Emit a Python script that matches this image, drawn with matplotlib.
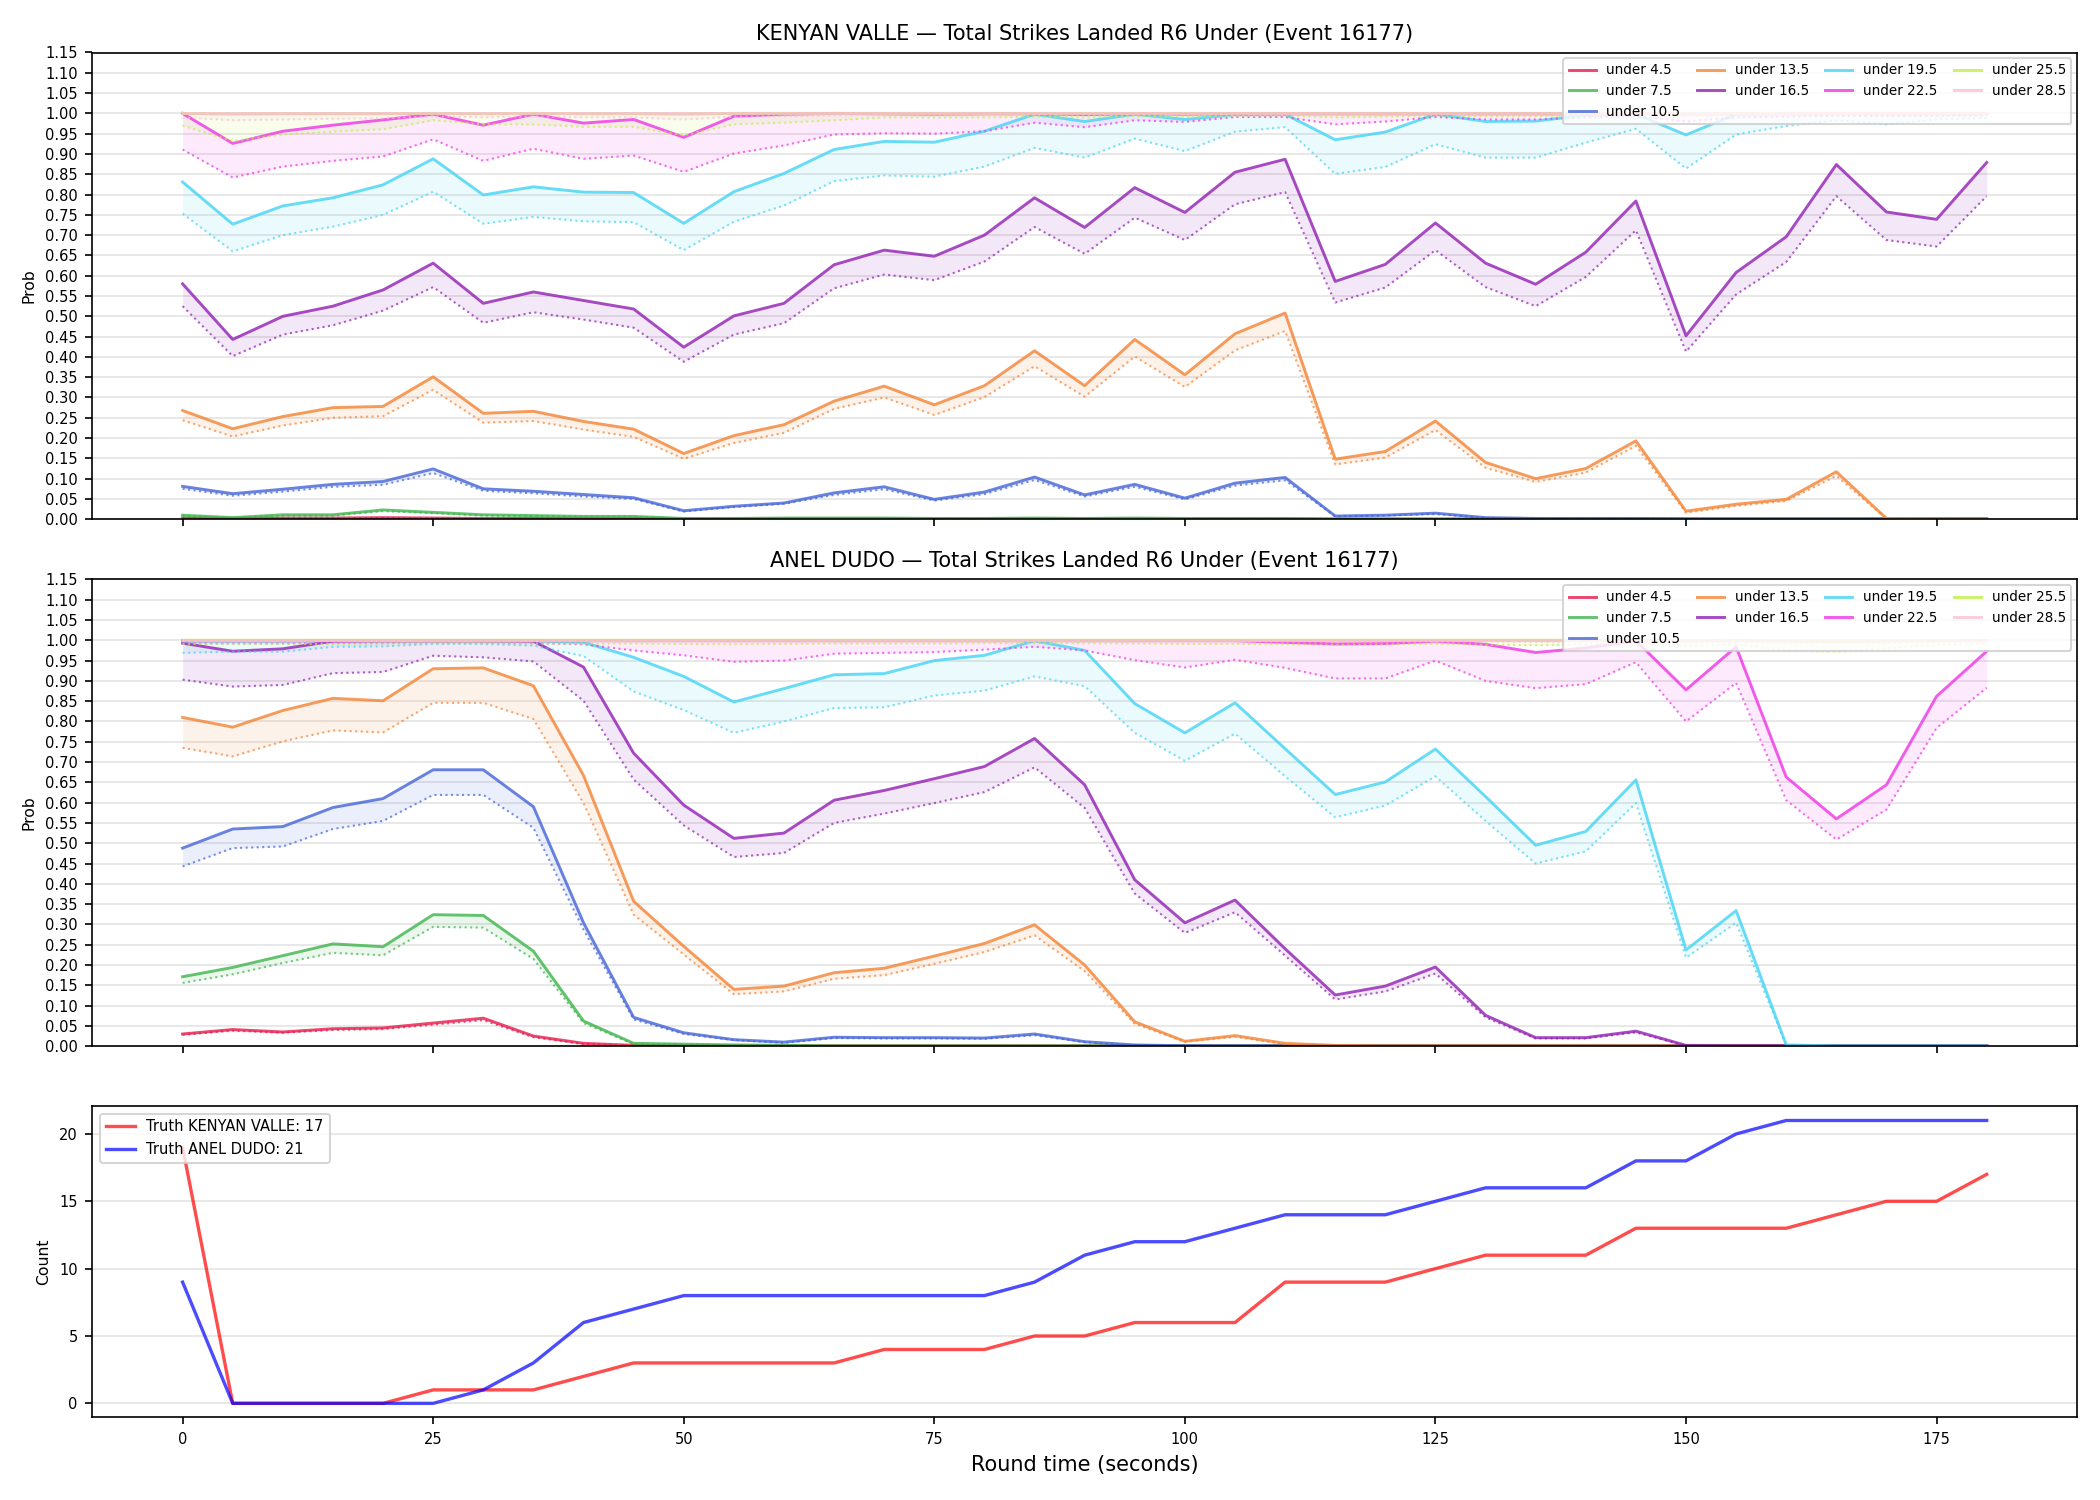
import matplotlib
matplotlib.use("Agg")
import matplotlib.pyplot as plt
from matplotlib.ticker import MultipleLocator

# round time (seconds)
t = [0, 5, 10, 15, 20, 25, 30, 35, 40, 45, 50, 55, 60, 65, 70, 75, 80, 85, 90,
     95, 100, 105, 110, 115, 120, 125, 130, 135, 140, 145, 150, 155, 160, 165,
     170, 175, 180]

lines = ["4.5", "7.5", "10.5", "13.5", "16.5", "19.5", "22.5", "25.5", "28.5"]
colors = ["#e6194b", "#3cb44b", "#4363d8", "#f58231", "#911eb4",
          "#42d4f4", "#f032e6", "#bfef45", "#fabed4"]

# ---- KENYAN VALLE: prob (solid) and lower bound (dotted) ----
kv_u4_5 = [0.003, 0.002, 0.003, 0.003, 0.004, 0.003, 0.002, 0.002, 0.002, 0.002,
           0.001, 0.001, 0.001, 0.001, 0.001, 0.001, 0.001, 0.001, 0.001, 0.001,
           0.001, 0.001, 0.001, 0.000, 0.000, 0.000, 0.000, 0.000, 0.000, 0.000,
           0.000, 0.000, 0.000, 0.000, 0.000, 0.000, 0.000]
kv_u4_5_lo = [0.002, 0.001, 0.002, 0.002, 0.003, 0.002, 0.001, 0.001, 0.001, 0.001,
              0.001, 0.001, 0.001, 0.001, 0.001, 0.001, 0.001, 0.001, 0.001, 0.001,
              0.001, 0.001, 0.001, 0.000, 0.000, 0.000, 0.000, 0.000, 0.000, 0.000,
              0.000, 0.000, 0.000, 0.000, 0.000, 0.000, 0.000]
kv_u7_5 = [0.010, 0.004, 0.011, 0.011, 0.023, 0.017, 0.011, 0.009, 0.007, 0.007,
           0.002, 0.002, 0.003, 0.003, 0.003, 0.002, 0.002, 0.003, 0.002, 0.003,
           0.002, 0.002, 0.002, 0.001, 0.001, 0.001, 0.001, 0.001, 0.001, 0.001,
           0.001, 0.001, 0.001, 0.001, 0.001, 0.001, 0.001]
kv_u7_5_lo = [0.008, 0.003, 0.009, 0.009, 0.020, 0.015, 0.009, 0.008, 0.006, 0.006,
              0.002, 0.002, 0.002, 0.002, 0.002, 0.002, 0.002, 0.002, 0.002, 0.002,
              0.002, 0.002, 0.002, 0.001, 0.001, 0.001, 0.001, 0.001, 0.001, 0.001,
              0.001, 0.001, 0.001, 0.001, 0.001, 0.001, 0.001]
kv_u10_5 = [0.081, 0.063, 0.074, 0.086, 0.093, 0.124, 0.075, 0.069, 0.061, 0.053,
            0.021, 0.032, 0.040, 0.065, 0.080, 0.049, 0.067, 0.104, 0.060, 0.086,
            0.052, 0.089, 0.103, 0.008, 0.010, 0.015, 0.004, 0.002, 0.002, 0.002,
            0.001, 0.001, 0.001, 0.001, 0.001, 0.001, 0.001]
kv_u10_5_lo = [0.075, 0.058, 0.068, 0.080, 0.085, 0.114, 0.070, 0.064, 0.056, 0.050,
               0.019, 0.030, 0.038, 0.060, 0.074, 0.046, 0.062, 0.097, 0.056, 0.080,
               0.049, 0.083, 0.096, 0.007, 0.009, 0.013, 0.003, 0.002, 0.002, 0.002,
               0.001, 0.001, 0.001, 0.001, 0.001, 0.001, 0.001]
kv_u13_5 = [0.268, 0.223, 0.253, 0.275, 0.278, 0.351, 0.261, 0.266, 0.241, 0.222,
            0.162, 0.206, 0.233, 0.291, 0.328, 0.282, 0.329, 0.415, 0.329, 0.443,
            0.356, 0.457, 0.508, 0.148, 0.167, 0.242, 0.140, 0.100, 0.125, 0.193,
            0.020, 0.037, 0.049, 0.117, 0.002, 0.001, 0.001]
kv_u13_5_lo = [0.244, 0.204, 0.231, 0.250, 0.254, 0.319, 0.238, 0.242, 0.221, 0.203,
               0.149, 0.188, 0.213, 0.272, 0.300, 0.257, 0.301, 0.377, 0.302, 0.401,
               0.326, 0.416, 0.464, 0.135, 0.152, 0.220, 0.127, 0.092, 0.115, 0.181,
               0.016, 0.033, 0.045, 0.107, 0.001, 0.001, 0.001]
kv_u16_5 = [0.580, 0.443, 0.500, 0.525, 0.565, 0.631, 0.532, 0.560, 0.539, 0.518,
            0.424, 0.501, 0.532, 0.627, 0.663, 0.648, 0.700, 0.792, 0.719, 0.817,
            0.756, 0.855, 0.887, 0.586, 0.628, 0.730, 0.631, 0.579, 0.658, 0.784,
            0.452, 0.608, 0.696, 0.874, 0.757, 0.739, 0.879]
kv_u16_5_lo = [0.525, 0.402, 0.455, 0.478, 0.514, 0.572, 0.484, 0.510, 0.492, 0.472,
               0.388, 0.455, 0.483, 0.569, 0.603, 0.589, 0.635, 0.720, 0.654, 0.743,
               0.688, 0.776, 0.806, 0.534, 0.571, 0.663, 0.572, 0.525, 0.597, 0.712,
               0.413, 0.554, 0.634, 0.796, 0.688, 0.672, 0.796]
kv_u19_5 = [0.831, 0.727, 0.772, 0.792, 0.824, 0.888, 0.799, 0.819, 0.806, 0.805,
            0.729, 0.807, 0.852, 0.911, 0.931, 0.929, 0.956, 0.998, 0.980, 0.998,
            0.985, 0.997, 0.998, 0.935, 0.954, 0.998, 0.980, 0.981, 0.996, 0.998,
            0.947, 0.998, 0.999, 0.999, 0.999, 0.999, 0.999]
kv_u19_5_lo = [0.753, 0.660, 0.700, 0.721, 0.750, 0.807, 0.728, 0.745, 0.734, 0.732,
               0.663, 0.733, 0.773, 0.833, 0.847, 0.844, 0.869, 0.915, 0.891, 0.938,
               0.907, 0.955, 0.966, 0.851, 0.868, 0.924, 0.891, 0.891, 0.928, 0.962,
               0.864, 0.948, 0.969, 0.983, 0.973, 0.985, 0.989]
kv_u22_5 = [1.000, 0.926, 0.956, 0.971, 0.984, 0.998, 0.971, 0.998, 0.976, 0.985,
            0.941, 0.993, 0.998, 1.000, 0.999, 0.998, 0.999, 0.999, 0.997, 0.999,
            0.998, 0.999, 0.999, 0.999, 0.999, 0.999, 0.999, 0.999, 0.999, 0.999,
            0.999, 0.999, 1.000, 1.000, 1.000, 1.000, 1.000]
kv_u22_5_lo = [0.911, 0.842, 0.869, 0.883, 0.894, 0.936, 0.883, 0.913, 0.888, 0.896,
               0.856, 0.901, 0.921, 0.948, 0.951, 0.950, 0.956, 0.977, 0.966, 0.983,
               0.979, 0.991, 0.991, 0.973, 0.980, 0.991, 0.985, 0.985, 0.990, 0.993,
               0.980, 0.990, 0.992, 0.994, 0.993, 0.994, 0.995]
kv_u25_5 = [1.000, 0.998, 0.999, 0.999, 0.999, 1.000, 0.999, 1.000, 0.999, 0.999,
            0.998, 1.000, 1.000, 1.000, 1.000, 1.000, 1.000, 1.000, 1.000, 1.000,
            1.000, 1.000, 1.000, 1.000, 1.000, 1.000, 1.000, 1.000, 1.000, 1.000,
            1.000, 1.000, 1.000, 1.000, 1.000, 1.000, 1.000]
kv_u25_5_lo = [0.970, 0.932, 0.948, 0.955, 0.961, 0.983, 0.973, 0.973, 0.967, 0.967,
               0.946, 0.973, 0.977, 0.983, 0.990, 0.990, 0.990, 0.992, 0.990, 0.993,
               0.992, 0.994, 0.995, 0.990, 0.992, 0.995, 0.993, 0.993, 0.995, 0.996,
               0.993, 0.995, 0.996, 0.997, 0.996, 0.997, 0.997]
kv_u28_5 = [1.000, 1.000, 1.000, 1.000, 1.000, 1.000, 1.000, 1.000, 1.000, 1.000,
            1.000, 1.000, 1.000, 1.000, 1.000, 1.000, 1.000, 1.000, 1.000, 1.000,
            1.000, 1.000, 1.000, 1.000, 1.000, 1.000, 1.000, 1.000, 1.000, 1.000,
            1.000, 1.000, 1.000, 1.000, 1.000, 1.000, 1.000]
kv_u28_5_lo = [0.990, 0.983, 0.985, 0.987, 0.988, 0.993, 0.990, 0.993, 0.990, 0.990,
               0.985, 0.992, 0.993, 0.995, 0.996, 0.996, 0.996, 0.997, 0.996, 0.997,
               0.997, 0.997, 0.998, 0.996, 0.997, 0.998, 0.997, 0.997, 0.998, 0.998,
               0.997, 0.998, 0.998, 0.998, 0.998, 0.998, 0.998]

# ---- ANEL DUDO ----
ad_u4_5 = [0.030, 0.041, 0.035, 0.043, 0.045, 0.057, 0.069, 0.025, 0.007, 0.002,
           0.001, 0.001, 0.001, 0.001, 0.001, 0.001, 0.001, 0.001, 0.001, 0.001,
           0.001, 0.001, 0.001, 0.001, 0.001, 0.001, 0.001, 0.001, 0.001, 0.001,
           0.001, 0.001, 0.001, 0.001, 0.001, 0.001, 0.001]
ad_u4_5_lo = [0.028, 0.038, 0.033, 0.040, 0.042, 0.053, 0.064, 0.022, 0.005, 0.001,
              0.000, 0.000, 0.000, 0.000, 0.000, 0.000, 0.000, 0.000, 0.000, 0.000,
              0.000, 0.000, 0.000, 0.000, 0.000, 0.000, 0.000, 0.000, 0.000, 0.000,
              0.000, 0.000, 0.000, 0.000, 0.000, 0.000, 0.000]
ad_u7_5 = [0.171, 0.194, 0.223, 0.252, 0.245, 0.324, 0.322, 0.234, 0.062, 0.007,
           0.005, 0.003, 0.002, 0.001, 0.001, 0.001, 0.001, 0.001, 0.001, 0.001,
           0.001, 0.001, 0.001, 0.001, 0.001, 0.001, 0.001, 0.001, 0.001, 0.001,
           0.001, 0.001, 0.001, 0.001, 0.001, 0.001, 0.001]
ad_u7_5_lo = [0.156, 0.177, 0.205, 0.230, 0.224, 0.294, 0.292, 0.215, 0.057, 0.005,
              0.004, 0.002, 0.001, 0.000, 0.000, 0.000, 0.000, 0.000, 0.000, 0.000,
              0.000, 0.000, 0.000, 0.000, 0.000, 0.000, 0.000, 0.000, 0.000, 0.000,
              0.000, 0.000, 0.000, 0.000, 0.000, 0.000, 0.000]
ad_u10_5 = [0.488, 0.535, 0.541, 0.588, 0.610, 0.681, 0.681, 0.590, 0.304, 0.071,
            0.033, 0.016, 0.010, 0.022, 0.021, 0.021, 0.020, 0.030, 0.011, 0.003,
            0.001, 0.001, 0.001, 0.001, 0.001, 0.001, 0.001, 0.001, 0.001, 0.001,
            0.001, 0.001, 0.001, 0.001, 0.001, 0.001, 0.001]
ad_u10_5_lo = [0.443, 0.488, 0.492, 0.535, 0.555, 0.619, 0.619, 0.538, 0.287, 0.066,
               0.030, 0.015, 0.008, 0.020, 0.019, 0.019, 0.018, 0.027, 0.010, 0.002,
               0.001, 0.000, 0.000, 0.000, 0.000, 0.000, 0.000, 0.000, 0.000, 0.000,
               0.000, 0.000, 0.000, 0.000, 0.000, 0.000, 0.000]
ad_u13_5 = [0.810, 0.786, 0.827, 0.857, 0.851, 0.930, 0.932, 0.888, 0.667, 0.357,
            0.246, 0.140, 0.148, 0.181, 0.192, 0.222, 0.253, 0.299, 0.200, 0.060,
            0.012, 0.026, 0.007, 0.002, 0.001, 0.001, 0.001, 0.001, 0.001, 0.001,
            0.001, 0.001, 0.001, 0.001, 0.001, 0.001, 0.001]
ad_u13_5_lo = [0.735, 0.714, 0.751, 0.778, 0.773, 0.846, 0.846, 0.806, 0.599, 0.324,
               0.226, 0.128, 0.135, 0.166, 0.175, 0.203, 0.232, 0.273, 0.185, 0.055,
               0.011, 0.023, 0.005, 0.001, 0.000, 0.000, 0.000, 0.000, 0.000, 0.000,
               0.000, 0.000, 0.000, 0.000, 0.000, 0.000, 0.000]
ad_u16_5 = [0.993, 0.973, 0.979, 0.998, 0.999, 0.999, 0.999, 0.998, 0.934, 0.722,
            0.594, 0.512, 0.525, 0.606, 0.630, 0.659, 0.689, 0.758, 0.644, 0.410,
            0.304, 0.360, 0.240, 0.126, 0.148, 0.195, 0.076, 0.021, 0.021, 0.037,
            0.002, 0.001, 0.001, 0.001, 0.001, 0.001, 0.001]
ad_u16_5_lo = [0.903, 0.886, 0.890, 0.919, 0.922, 0.962, 0.958, 0.948, 0.851, 0.657,
               0.544, 0.466, 0.476, 0.550, 0.573, 0.599, 0.626, 0.687, 0.587, 0.376,
               0.279, 0.330, 0.223, 0.115, 0.135, 0.179, 0.071, 0.019, 0.019, 0.034,
               0.001, 0.000, 0.000, 0.000, 0.000, 0.000, 0.000]
ad_u19_5 = [0.998, 0.998, 0.998, 0.999, 0.999, 0.999, 0.999, 0.999, 0.995, 0.958,
            0.911, 0.848, 0.881, 0.915, 0.918, 0.950, 0.963, 0.999, 0.975, 0.844,
            0.772, 0.846, 0.733, 0.620, 0.651, 0.732, 0.615, 0.495, 0.529, 0.656,
            0.237, 0.334, 0.003, 0.001, 0.001, 0.001, 0.001]
ad_u19_5_lo = [0.969, 0.972, 0.972, 0.984, 0.985, 0.991, 0.991, 0.987, 0.961, 0.874,
               0.828, 0.772, 0.800, 0.833, 0.835, 0.864, 0.876, 0.911, 0.887, 0.772,
               0.703, 0.770, 0.665, 0.564, 0.593, 0.665, 0.555, 0.450, 0.480, 0.599,
               0.218, 0.304, 0.002, 0.000, 0.000, 0.000, 0.000]
ad_u22_5 = [0.999, 0.999, 0.999, 0.999, 0.999, 0.999, 0.999, 0.999, 0.999, 0.999,
            0.999, 0.999, 0.999, 0.999, 0.999, 0.999, 0.999, 0.999, 0.999, 0.999,
            0.999, 0.999, 0.995, 0.991, 0.992, 0.998, 0.990, 0.970, 0.981, 0.999,
            0.878, 0.984, 0.663, 0.560, 0.644, 0.862, 0.973]
ad_u22_5_lo = [0.992, 0.992, 0.992, 0.993, 0.993, 0.994, 0.994, 0.993, 0.990, 0.975,
               0.963, 0.947, 0.950, 0.967, 0.969, 0.971, 0.977, 0.984, 0.975, 0.951,
               0.933, 0.952, 0.932, 0.906, 0.906, 0.950, 0.900, 0.882, 0.892, 0.946,
               0.800, 0.895, 0.606, 0.509, 0.583, 0.784, 0.883]
ad_u25_5 = [1.000, 1.000, 1.000, 1.000, 1.000, 1.000, 1.000, 1.000, 1.000, 1.000,
            1.000, 1.000, 1.000, 1.000, 1.000, 1.000, 1.000, 1.000, 1.000, 1.000,
            1.000, 1.000, 1.000, 1.000, 1.000, 1.000, 1.000, 1.000, 1.000, 1.000,
            0.999, 1.000, 0.998, 0.997, 0.998, 0.999, 1.000]
ad_u25_5_lo = [0.991, 0.991, 0.991, 0.991, 0.992, 0.993, 0.993, 0.992, 0.992, 0.992,
               0.991, 0.990, 0.991, 0.992, 0.992, 0.992, 0.993, 0.993, 0.993, 0.992,
               0.991, 0.991, 0.990, 0.989, 0.990, 0.991, 0.989, 0.988, 0.989, 0.991,
               0.985, 0.990, 0.975, 0.972, 0.980, 0.988, 0.992]
ad_u28_5 = [1.000, 1.000, 1.000, 1.000, 1.000, 1.000, 1.000, 1.000, 1.000, 1.000,
            1.000, 1.000, 1.000, 1.000, 1.000, 1.000, 1.000, 1.000, 1.000, 1.000,
            1.000, 1.000, 1.000, 1.000, 1.000, 1.000, 1.000, 1.000, 1.000, 1.000,
            1.000, 1.000, 1.000, 1.000, 1.000, 1.000, 1.000]
ad_u28_5_lo = [0.998, 0.998, 0.998, 0.998, 0.998, 0.998, 0.998, 0.998, 0.998, 0.998,
               0.998, 0.997, 0.997, 0.998, 0.998, 0.998, 0.998, 0.998, 0.998, 0.997,
               0.997, 0.997, 0.997, 0.997, 0.997, 0.997, 0.997, 0.996, 0.996, 0.997,
               0.995, 0.997, 0.994, 0.993, 0.994, 0.996, 0.997]

# ---- truth counts ----
kv_truth = [19, 0, 0, 0, 0, 1, 1, 1, 2, 3, 3, 3, 3, 3, 4, 4, 4, 5, 5, 6, 6, 6,
            9, 9, 9, 10, 11, 11, 11, 13, 13, 13, 13, 14, 15, 15, 17]
ad_truth = [9, 0, 0, 0, 0, 0, 1, 3, 6, 7, 8, 8, 8, 8, 8, 8, 8, 9, 11, 12, 12, 13,
            14, 14, 14, 15, 16, 16, 16, 18, 18, 20, 21, 21, 21, 21, 21]

kv_solid = [kv_u4_5, kv_u7_5, kv_u10_5, kv_u13_5, kv_u16_5, kv_u19_5, kv_u22_5, kv_u25_5, kv_u28_5]
kv_lo = [kv_u4_5_lo, kv_u7_5_lo, kv_u10_5_lo, kv_u13_5_lo, kv_u16_5_lo, kv_u19_5_lo,
         kv_u22_5_lo, kv_u25_5_lo, kv_u28_5_lo]
ad_solid = [ad_u4_5, ad_u7_5, ad_u10_5, ad_u13_5, ad_u16_5, ad_u19_5, ad_u22_5, ad_u25_5, ad_u28_5]
ad_lo = [ad_u4_5_lo, ad_u7_5_lo, ad_u10_5_lo, ad_u13_5_lo, ad_u16_5_lo, ad_u19_5_lo,
         ad_u22_5_lo, ad_u25_5_lo, ad_u28_5_lo]


fig, axes = plt.subplots(3, 1, figsize=(14, 10), dpi=150, sharex=True,
                         gridspec_kw={"height_ratios": [3, 3, 2]})
fig.subplots_adjust(left=0.044, right=0.989, top=0.965, bottom=0.055, hspace=0.145)


def prob_panel(ax, name, solid, lo):
    for label, c, ys, yl in zip(lines, colors, solid, lo):
        ax.plot(t, ys, color=c, lw=1.4, alpha=0.8, label="under " + label)
        ax.plot(t, yl, color=c, lw=1.0, ls=":", alpha=0.7)
        ax.fill_between(t, yl, ys, color=c, alpha=0.1, lw=0)
    ax.set_ylim(0, 1.15)
    ax.yaxis.set_major_locator(MultipleLocator(0.05))
    ax.yaxis.set_major_formatter("{x:.2f}")
    ax.set_ylabel("Prob", fontsize=7.5)
    ax.set_title(name + " \u2014 Total Strikes Landed R6 Under (Event 16177)", fontsize=10)
    ax.grid(axis="y", color="#e4e4e4", lw=0.8)
    ax.set_axisbelow(True)
    ax.tick_params(labelsize=7)
    ax.legend(loc="upper right", ncol=4, fontsize=6.5, handlelength=2.0,
              columnspacing=1.2, borderaxespad=0.4)


prob_panel(axes[0], "KENYAN VALLE", kv_solid, kv_lo)
prob_panel(axes[1], "ANEL DUDO", ad_solid, ad_lo)

ax = axes[2]
ax.plot(t, kv_truth, color="red", lw=1.6, alpha=0.7, label="Truth KENYAN VALLE: 17")
ax.plot(t, ad_truth, color="blue", lw=1.6, alpha=0.7, label="Truth ANEL DUDO: 21")
ax.set_ylabel("Count", fontsize=7.5)
ax.set_xlabel("Round time (seconds)", fontsize=10)
ax.grid(axis="y", color="#e4e4e4", lw=0.8)
ax.set_axisbelow(True)
ax.tick_params(labelsize=7)
ax.legend(loc="upper left", fontsize=7)
ax.xaxis.set_major_locator(MultipleLocator(25))

fig.savefig("out.png", dpi=150)
